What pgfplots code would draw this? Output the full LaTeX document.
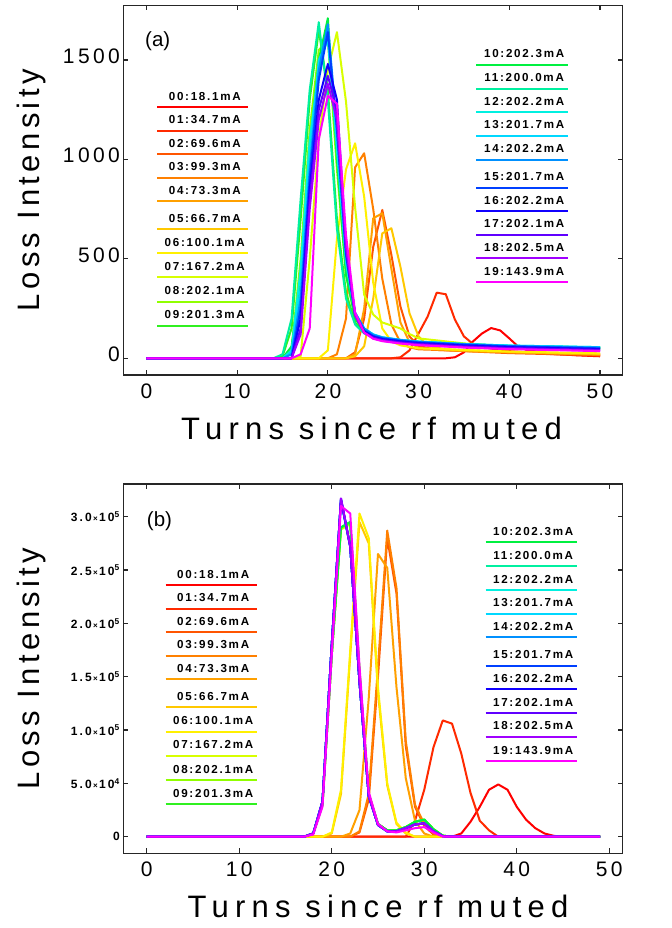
\documentclass[border=0pt]{standalone}
\usepackage{fontspec}
\setmainfont{Liberation Sans}
\newfontfamily\lblfam[LetterSpace=14]{Liberation Sans}
\newfontfamily\xlblfam[LetterSpace=20]{Liberation Sans}
\newfontfamily\tickfam[LetterSpace=16]{Liberation Sans}
\newfontfamily\smtickfam[LetterSpace=18]{Liberation Sans}
\newfontfamily\legfam[LetterSpace=15]{Liberation Sans}
\usepackage{pgfplots}
\pgfplotsset{compat=1.18}
\newcommand\lblf{\lblfam\fontsize{31bp}{36bp}\selectfont}
\newcommand\xlblf{\xlblfam\fontsize{31bp}{36bp}\selectfont}
\newcommand\tickf{\tickfam\fontsize{21bp}{24bp}\selectfont}
\newcommand\smallf{\smtickfam\bfseries\fontsize{12bp}{14bp}\selectfont}
\newcommand\legf{\legfam\bfseries\fontsize{11.6bp}{13bp}\selectfont}
\newcommand\panelf{\fontsize{20.5bp}{24bp}\selectfont}
\newcommand\sci[2]{#1{\fontsize{8bp}{9bp}\selectfont\,×\,}10\textsuperscript{#2}}
\definecolor{c00}{HTML}{FF0000}
\definecolor{c01}{HTML}{FF2A00}
\definecolor{c02}{HTML}{FF5500}
\definecolor{c03}{HTML}{FF8000}
\definecolor{c04}{HTML}{FFA000}
\definecolor{c05}{HTML}{FFC800}
\definecolor{c06}{HTML}{FFF000}
\definecolor{c07}{HTML}{D8FF00}
\definecolor{c08}{HTML}{90FF00}
\definecolor{c09}{HTML}{30F020}
\definecolor{c10}{HTML}{00F040}
\definecolor{c11}{HTML}{00F0A0}
\definecolor{c12}{HTML}{00F0E0}
\definecolor{c13}{HTML}{00D8FF}
\definecolor{c14}{HTML}{0090FF}
\definecolor{c15}{HTML}{0040FF}
\definecolor{c16}{HTML}{1000FF}
\definecolor{c17}{HTML}{6000FF}
\definecolor{c18}{HTML}{A000FF}
\definecolor{c19}{HTML}{FF00FF}
\newcommand\leg[5]{%
  \draw[#4,line width=1.9bp] ({#1*1bp},{(928-#3)*1bp}) -- ({#2*1bp},{(928-#3)*1bp});
  \node[anchor=base,inner sep=0pt,font=\legf,text=black] at ({((#1+#2)/2+2)*1bp},{(928-#3+7)*1bp}) {#5};
}
\pgfplotsset{myax/.style={
  scale only axis, width=499.4bp, height=369.5bp, anchor=south west,
  axis line style={line width=1.5bp, black!85},
  tick style={line width=1.2bp, black!85}, major tick length=5bp, tick align=inside,
  xtick={0,10,...,50}, minor tick num=0,
  every axis plot/.append style={line width=2bp, line join=round},
  xticklabel style={font=\tickf, yshift=-5bp},
  /pgf/number format/assume math mode=true,
  /pgf/number format/1000 sep={},
  xlabel={Turns since rf muted}, ylabel={Loss Intensity},
  xlabel style={font=\xlblf},
  ylabel style={font=\lblf, at={(axis description cs:-0.1682,0.5)}, anchor=base},
}}
\begin{document}
\begin{tikzpicture}
\path[use as bounding box] (0,0) rectangle (672bp,928bp);
% ---------------- panel (a)
\begin{axis}[myax, at={(123.3bp,553bp)},
  xmin=-2.55, xmax=52.5, ymin=-84, ymax=1774,
  ytick={0,500,1000,1500},
  yticklabel style={font=\tickf, yshift=4bp},
  xlabel style={at={(axis description cs:0.497,-0.174)}, anchor=base},
]
\addplot[c00] coordinates {(0,0)(33,0)(34,5)(35,30)(36,85)(37,125)(38,152)(39,140)(40,100)(41,58)(42,40)(44,28)(47,16)(50,10)};
\addplot[c01] coordinates {(0,0)(27,0)(28,5)(29,40)(30,125)(31,210)(32,330)(33,322)(34,195)(35,110)(36,72)(37,55)(40,36)(45,20)(50,12)};
\addplot[c02] coordinates {(0,0)(22,0)(23,30)(24,200)(25,560)(26,746)(27,520)(28,260)(29,110)(30,62)(32,42)(40,26)(50,15)};
\addplot[c03] coordinates {(0,0)(20,0)(21,20)(22,200)(23,960)(24,1031)(25,750)(26,400)(27,170)(28,80)(29,55)(30,45)(40,30)(50,20)};
\addplot[c04] coordinates {(0,0)(22,0)(23,20)(24,250)(25,704)(26,729)(27,450)(28,180)(29,80)(30,52)(35,36)(50,18)};
\addplot[c05] coordinates {(0,0)(22,0)(23,10)(24,60)(25,300)(26,628)(27,654)(28,460)(29,226)(30,110)(31,62)(33,45)(40,32)(50,22)};
\addplot[c06] coordinates {(0,0)(19,0)(20,40)(21,600)(22,950)(23,1081)(24,813)(25,380)(26,150)(27,85)(28,65)(30,50)(40,34)(50,25)};
\addplot[c07] coordinates {(0,0)(16,0)(17,10)(18,500)(19,1100)(20,1450)(21,1640)(22,1290)(23,760)(24,320)(25,220)(26,180)(27,165)(28,150)(29,122)(30,100)(35,75)(40,60)(50,45)};
\addplot[c08] coordinates {(0,0)(15,0)(16,50)(17,500)(18,1150)(19,1550)(20,1600)(21,950)(22,420)(23,200)(24,140)(25,115)(26,102)(28,90)(30,82)(35,70)(40,62)(50,54)};
\addplot[c09] coordinates {(0,0)(14,0)(15,10)(16,150)(17,700)(18,1300)(19,1650)(20,1350)(21,700)(22,330)(23,180)(24,130)(25,110)(26,100)(28,88)(30,80)(35,68)(40,60)(50,52)};
\addplot[c10] coordinates {(0,0)(15,0)(16,60)(17,400)(18,1050)(19,1500)(20,1710)(21,1000)(22,420)(23,200)(24,140)(25,115)(26,102)(28,90)(30,82)(35,70)(40,62)(50,54)};
\addplot[c11] coordinates {(0,0)(14,0)(15,20)(16,200)(17,800)(18,1350)(19,1690)(20,1300)(21,650)(22,300)(23,170)(24,125)(25,108)(26,98)(28,88)(30,80)(35,68)(40,60)(50,52)};
\addplot[c12] coordinates {(0,0)(15,0)(16,40)(17,450)(18,1100)(19,1450)(20,1620)(21,1050)(22,480)(23,220)(24,150)(25,120)(26,105)(28,92)(30,84)(35,72)(40,64)(50,56)};
\addplot[c13] coordinates {(0,0)(15,0)(16,30)(17,350)(18,1000)(19,1500)(20,1600)(21,1100)(22,500)(23,230)(24,150)(25,120)(26,106)(28,93)(30,84)(35,72)(40,64)(50,56)};
\addplot[c14] coordinates {(0,0)(15,0)(16,20)(17,300)(18,950)(19,1450)(20,1680)(21,1150)(22,520)(23,230)(24,150)(25,118)(26,104)(28,92)(30,83)(35,71)(40,62)(50,54)};
\addplot[c15] coordinates {(0,0)(16,0)(17,250)(18,900)(19,1400)(20,1640)(21,1150)(22,520)(23,220)(24,140)(25,112)(26,100)(28,88)(30,80)(35,68)(40,60)(50,50)};
\addplot[c16] coordinates {(0,0)(16,0)(17,200)(18,850)(19,1300)(20,1480)(21,1300)(22,550)(23,220)(24,135)(25,108)(26,96)(28,85)(30,76)(35,64)(40,56)(50,46)};
\addplot[c17] coordinates {(0,0)(16,0)(17,150)(18,800)(19,1250)(20,1420)(21,1250)(22,560)(23,220)(24,130)(25,104)(26,92)(28,80)(30,72)(35,60)(40,52)(50,42)};
\addplot[c18] coordinates {(0,0)(16,0)(17,120)(18,750)(19,1200)(20,1380)(21,1200)(22,560)(23,215)(24,128)(25,100)(26,88)(28,76)(30,68)(35,56)(40,48)(50,38)};
\addplot[c19] coordinates {(0,0)(16,0)(17,20)(18,150)(19,1100)(20,1320)(21,1280)(22,620)(23,230)(24,130)(25,98)(26,86)(28,74)(30,66)(35,54)(40,46)(50,36)};
\node[anchor=base west,inner sep=0pt,font=\panelf] at (axis description cs:0.0435,0.8885) {(a)};
\end{axis}
% ---------------- panel (b)
\begin{axis}[myax, at={(123.3bp,74.7bp)}, height=369.3bp,
  xmin=-2.53, xmax=51.45, ymin=-15560, ymax=330650,
  scaled y ticks=false,
  ytick={0,50000,100000,150000,200000,250000,300000},
  yticklabels={0,\sci{5.0}{4},\sci{1.0}{5},\sci{1.5}{5},\sci{2.0}{5},\sci{2.5}{5},\sci{3.0}{5}},
  yticklabel style={font=\smallf},
  xlabel style={at={(axis description cs:0.51,-0.174)}, anchor=base},
]
\addplot[c00] coordinates {(0,0)(33,0)(34,3000)(35,14000)(36,28000)(37,44000)(38,49000)(39,44000)(40,28000)(41,16000)(42,8000)(43,3000)(44,800)(45,0)(49,0)};
\addplot[c01] coordinates {(0,0)(28,0)(29,15000)(30,44000)(31,84000)(32,109000)(33,106000)(34,78000)(35,41000)(36,15000)(37,6000)(38,0)(49,0)};
\addplot[c02] coordinates {(0,0)(22,0)(23,4000)(24,35000)(25,150000)(26,280000)(27,228000)(28,85000)(29,28000)(30,10000)(31,2000)(32,0)(49,0)};
\addplot[c03] coordinates {(0,0)(22,0)(23,5000)(24,40000)(25,160000)(26,287000)(27,233000)(28,90000)(29,30000)(30,12000)(31,3000)(32,0)(49,0)};
\addplot[c04] coordinates {(0,0)(21,0)(22,3000)(23,25000)(24,130000)(25,265000)(26,252000)(27,140000)(28,55000)(29,15000)(30,3000)(31,0)(49,0)};
\addplot[c05] coordinates {(0,0)(19,0)(20,3000)(21,40000)(22,170000)(23,295000)(24,275000)(25,135000)(26,48000)(27,12000)(28,3000)(29,0)(49,0)};
\addplot[c06] coordinates {(0,0)(19,0)(20,4000)(21,44000)(22,175000)(23,303000)(24,280000)(25,140000)(26,50000)(27,13000)(28,4000)(29,0)(49,0)};
\addplot[c07] coordinates {(0,0)(17,0)(18,3000)(19,30000)(20,170000)(21,288000)(22,293000)(23,155000)(24,40000)(25,12000)(26,6000)(27,6000)(28,9000)(29,14000)(30,16000)(31,7000)(32,1000)(33,0)(49,0)};
\addplot[c08] coordinates {(0,0)(17,0)(18,3000)(19,30000)(20,170000)(21,289000)(22,294000)(23,155000)(24,40000)(25,12000)(26,6000)(27,6000)(28,9000)(29,14000)(30,16000)(31,7000)(32,1000)(33,0)(49,0)};
\addplot[c09] coordinates {(0,0)(17,0)(18,3000)(19,30000)(20,170000)(21,290000)(22,295000)(23,155000)(24,40000)(25,12000)(26,6000)(27,6000)(28,9000)(29,14000)(30,16000)(31,7000)(32,1000)(33,0)(49,0)};
\addplot[c10] coordinates {(0,0)(17,0)(18,3000)(19,30000)(20,170000)(21,290000)(22,295000)(23,155000)(24,40000)(25,12000)(26,6000)(27,6000)(28,9000)(29,14000)(30,16000)(31,7000)(32,1000)(33,0)(49,0)};
\addplot[c11] coordinates {(0,0)(17,0)(18,3000)(19,33000)(20,180000)(21,315000)(22,272000)(23,145000)(24,38000)(25,11000)(26,5000)(27,5000)(28,8000)(29,11500)(30,12500)(31,5000)(32,500)(33,0)(49,0)};
\addplot[c12] coordinates {(0,0)(17,0)(18,3000)(19,33000)(20,180000)(21,315000)(22,272000)(23,145000)(24,38000)(25,11000)(26,5000)(27,5000)(28,8000)(29,11500)(30,12500)(31,5000)(32,500)(33,0)(49,0)};
\addplot[c13] coordinates {(0,0)(17,0)(18,3000)(19,33000)(20,180000)(21,315000)(22,272000)(23,145000)(24,38000)(25,11000)(26,5000)(27,5000)(28,8000)(29,11500)(30,12500)(31,5000)(32,500)(33,0)(49,0)};
\addplot[c14] coordinates {(0,0)(17,0)(18,3000)(19,33000)(20,180000)(21,316000)(22,272000)(23,145000)(24,38000)(25,11000)(26,5000)(27,5000)(28,8000)(29,11500)(30,12500)(31,5000)(32,500)(33,0)(49,0)};
\addplot[c15] coordinates {(0,0)(17,0)(18,3000)(19,33000)(20,180000)(21,316000)(22,272000)(23,145000)(24,38000)(25,11000)(26,5000)(27,5000)(28,8000)(29,11500)(30,12500)(31,5000)(32,500)(33,0)(49,0)};
\addplot[c16] coordinates {(0,0)(17,0)(18,3000)(19,33000)(20,180000)(21,316000)(22,272000)(23,145000)(24,38000)(25,11000)(26,5000)(27,5000)(28,8000)(29,11500)(30,12500)(31,5000)(32,500)(33,0)(49,0)};
\addplot[c17] coordinates {(0,0)(17,0)(18,3000)(19,33000)(20,180000)(21,317000)(22,272000)(23,145000)(24,38000)(25,11000)(26,5000)(27,5000)(28,8000)(29,11500)(30,12500)(31,5000)(32,500)(33,0)(49,0)};
\addplot[c18] coordinates {(0,0)(17,0)(18,3000)(19,33000)(20,180000)(21,317000)(22,272000)(23,145000)(24,38000)(25,11000)(26,5000)(27,5000)(28,8000)(29,11500)(30,12500)(31,5000)(32,500)(33,0)(49,0)};
\addplot[c19] coordinates {(0,0)(17,0)(18,2000)(19,28000)(20,170000)(21,310000)(22,303000)(23,160000)(24,42000)(25,12000)(26,5000)(27,4000)(28,6000)(29,8000)(30,9000)(31,4000)(32,0)(49,0)};
\node[anchor=base west,inner sep=0pt,font=\panelf] at (axis description cs:0.0469,0.8844) {(b)};
\end{axis}
% ---------------- legend keys, panel (a)
\leg{157.3}{248.3}{107.3}{c00}{00:18.1mA}
\leg{157.3}{248.3}{131}{c01}{01:34.7mA}
\leg{157.3}{248.3}{154.3}{c02}{02:69.6mA}
\leg{157.3}{248.3}{178}{c03}{03:99.3mA}
\leg{157.3}{248.3}{201.3}{c04}{04:73.3mA}
\leg{157.3}{248.3}{229.3}{c05}{05:66.7mA}
\leg{157.3}{248.3}{253.3}{c06}{06:100.1mA}
\leg{157.3}{248.3}{277.3}{c07}{07:167.2mA}
\leg{157.3}{248.3}{301.7}{c08}{08:202.1mA}
\leg{157.3}{248.3}{325.7}{c09}{09:201.3mA}
\leg{476}{568.3}{65}{c10}{10:202.3mA}
\leg{476}{568.3}{88.7}{c11}{11:200.0mA}
\leg{476}{568.3}{112.3}{c12}{12:202.2mA}
\leg{476}{568.3}{136}{c13}{13:201.7mA}
\leg{476}{568.3}{160}{c14}{14:202.2mA}
\leg{476}{568.3}{187.7}{c15}{15:201.7mA}
\leg{476}{568.3}{211.3}{c16}{16:202.2mA}
\leg{476}{568.3}{235}{c17}{17:202.1mA}
\leg{476}{568.3}{258.3}{c18}{18:202.5mA}
\leg{476}{568.3}{282.3}{c19}{19:143.9mA}
% ---------------- legend keys, panel (b)
\leg{165.7}{256.7}{585}{c00}{00:18.1mA}
\leg{165.7}{256.7}{608.7}{c01}{01:34.7mA}
\leg{165.7}{256.7}{632.3}{c02}{02:69.6mA}
\leg{165.7}{256.7}{655.7}{c03}{03:99.3mA}
\leg{165.7}{256.7}{679}{c04}{04:73.3mA}
\leg{165.7}{256.7}{707.3}{c05}{05:66.7mA}
\leg{165.7}{256.7}{731.7}{c06}{06:100.1mA}
\leg{165.7}{256.7}{755.7}{c07}{07:167.2mA}
\leg{165.7}{256.7}{780}{c08}{08:202.1mA}
\leg{165.7}{256.7}{804}{c09}{09:201.3mA}
\leg{485.7}{576.7}{542.3}{c10}{10:202.3mA}
\leg{485.7}{576.7}{566}{c11}{11:200.0mA}
\leg{485.7}{576.7}{590}{c12}{12:202.2mA}
\leg{485.7}{576.7}{613.7}{c13}{13:201.7mA}
\leg{485.7}{576.7}{637.3}{c14}{14:202.2mA}
\leg{485.7}{576.7}{665.7}{c15}{15:201.7mA}
\leg{485.7}{576.7}{689.3}{c16}{16:202.2mA}
\leg{485.7}{576.7}{713}{c17}{17:202.1mA}
\leg{485.7}{576.7}{736.7}{c18}{18:202.5mA}
\leg{485.7}{576.7}{761}{c19}{19:143.9mA}
\end{tikzpicture}
\end{document}
